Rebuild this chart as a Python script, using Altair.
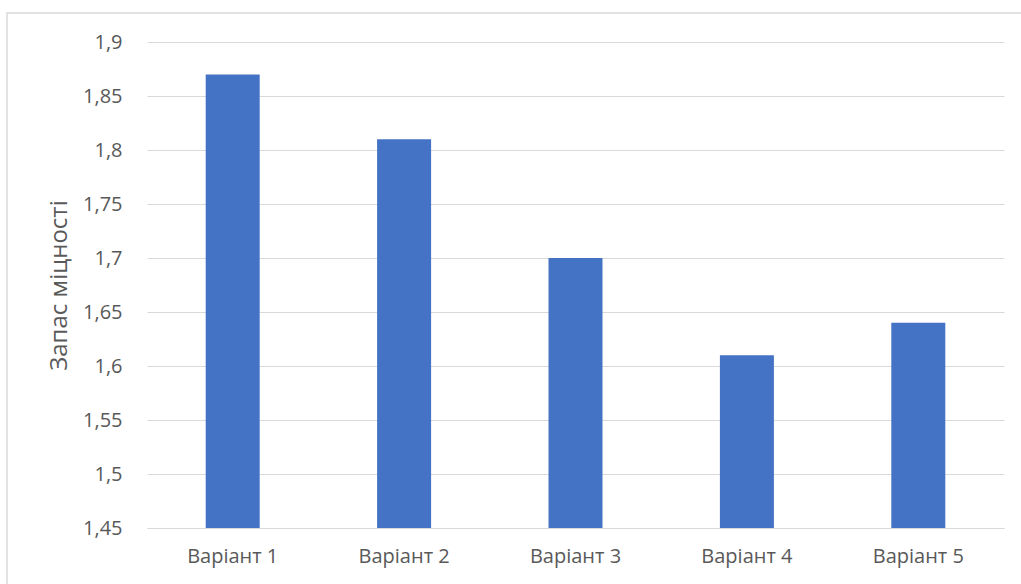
import altair as alt
import pandas as pd

categories = ["Варіант 1", "Варіант 2", "Варіант 3", "Варіант 4", "Варіант 5"]
values = [1.87, 1.81, 1.70, 1.61, 1.64]
y_ticks = [1.45, 1.5, 1.55, 1.6, 1.65, 1.7, 1.75, 1.8, 1.85, 1.9]

df = pd.DataFrame({"cat": categories, "val": values})

FONT = "Open Sans"
GRAY = "#595959"
GRID = "#d9d9d9"

bars = alt.Chart(df).mark_bar(color="#4472C4").encode(
    x=alt.X("cat:N", sort=categories,
            scale=alt.Scale(paddingInner=0.685, paddingOuter=0.3425),
            axis=alt.Axis(title=None, labelAngle=0, labelFont=FONT, labelFontSize=20,
                          labelColor=GRAY, ticks=False, domainColor=GRID, domainWidth=1,
                          labelPadding=18)),
    y=alt.Y("val:Q", scale=alt.Scale(domain=[1.45, 1.9], zero=False, nice=False),
            axis=alt.Axis(title="Запас міцності", values=y_ticks, titleFont=FONT,
                          titleFontSize=24, titleFontWeight="normal", titleColor=GRAY,
                          labelFont=FONT, labelFontSize=20, labelColor=GRAY,
                          labelExpr="replace(format(datum.value, '.2~f'), '.', ',')",
                          ticks=False, domain=False, gridColor=GRID, gridWidth=1,
                          labelPadding=25, titlePadding=11)),
    y2=alt.Y2(datum=1.45),
)

border = alt.Chart(pd.DataFrame({"a": [0]})).mark_rect(
    fill=None, stroke=GRID, strokeWidth=1.5
).encode(
    x=alt.value(-140), x2=alt.value(900), y=alt.value(-29), y2=alt.value(560)
)

chart = alt.layer(border, bars).properties(
    width=857, height=486,
    autosize=alt.AutoSizeParams(type="none"),
    padding={"left": 147, "top": 42, "right": 17, "bottom": 56},
    background="white",
).configure_view(stroke=None)

chart.save("out.html", embed_options={"renderer": "svg", "actions": False})
